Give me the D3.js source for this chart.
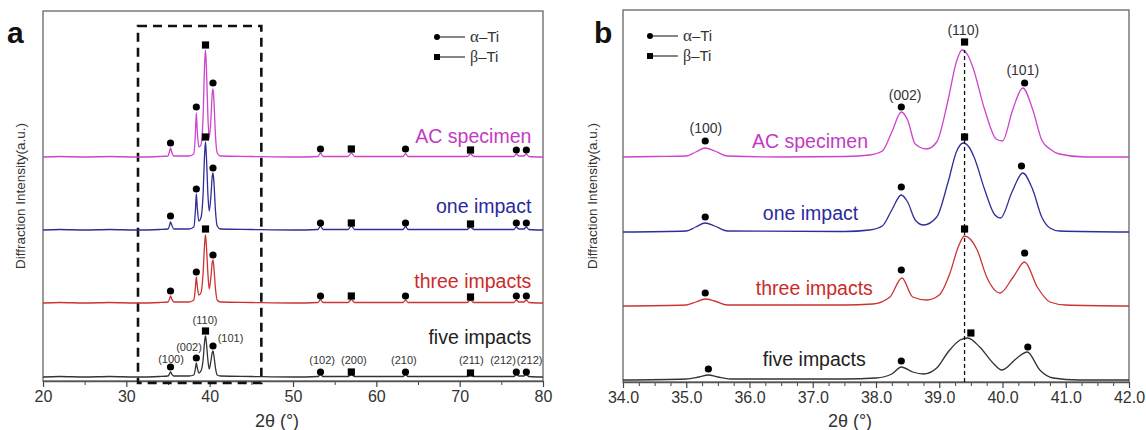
<!DOCTYPE html>
<html>
<head>
<meta charset="utf-8">
<script src="https://cdn.jsdelivr.net/npm/d3@7/dist/d3.min.js"></script>
<style>
  body { margin: 0; background: #fff; }
  svg { font-family: "Liberation Sans", Arial, sans-serif; }
  .tick line { stroke: #444; }
  .domain { stroke: #555; }
</style>
</head>
<body>
<div id="mainChart"></div>
<script>
// ---- Data (2theta in degrees, intensity in arbitrary stacked units) ----
const seriesNames = ["AC specimen", "one impact", "three impacts", "five impacts"]

// panel a : full scan 20-80
const acA = [[20,224],[22,224.5],[25,224],[28,224.5],[31,224],[34,224.5],[35.0,225],[35.2,230],[35.3,233],[35.45,229],[35.7,225],[37.5,225],[38.1,227],[38.3,250],[38.4,268],[38.5,252],[38.7,234],[38.95,236],[39.2,262],[39.4,318],[39.5,331],[39.6,315],[39.8,262],[39.95,243],[40.15,262],[40.3,287],[40.4,292],[40.5,282],[40.7,245],[40.9,228],[41.3,225],[45,224.5],[50,224],[53.0,224.5],[53.3,228],[53.6,224.5],[56.6,224.5],[57.0,228],[57.4,224.5],[63.2,224.5],[63.5,227.5],[63.8,224.5],[70.9,224.5],[71.3,227],[71.7,224.5],[76.5,224.5],[76.8,227],[77.1,225],[77.7,225],[78.0,227],[78.3,224.5],[80,224]]
const oneA = [[20,151],[22,151.5],[25,151],[28,151.5],[31,151],[34,151.5],[35.0,152],[35.2,156],[35.3,159],[35.45,156],[35.7,152],[37.5,152],[38.1,154],[38.3,172],[38.4,187],[38.5,175],[38.7,160],[38.95,163],[39.2,185],[39.4,228],[39.5,239],[39.6,226],[39.8,185],[39.95,170],[40.15,185],[40.3,204],[40.4,208],[40.5,200],[40.7,170],[40.9,155],[41.3,152],[45,151.5],[50,151],[53.0,151.5],[53.3,155],[53.6,151.5],[56.6,151.5],[57.0,155],[57.4,151.5],[63.2,151.5],[63.5,154.5],[63.8,151.5],[70.9,151.5],[71.3,154],[71.7,151.5],[76.5,151.5],[76.8,154],[77.1,152],[77.7,152],[78.0,154],[78.3,151.5],[80,151]]
const threeA = [[20,78],[22,78.5],[25,78],[28,78.5],[31,78],[34,78.5],[35.0,79],[35.2,82.5],[35.3,85],[35.45,82],[35.7,79],[37.5,79],[38.1,81],[38.3,95],[38.4,104],[38.5,96],[38.7,86],[38.95,88],[39.2,106],[39.4,138],[39.5,146],[39.6,136],[39.8,106],[39.95,92],[40.15,104],[40.3,118],[40.4,121],[40.5,114],[40.7,92],[40.9,81],[41.3,79],[45,78.5],[50,78],[53.0,78.5],[53.3,81.5],[53.6,78.5],[56.6,78.5],[57.0,81.5],[57.4,78.5],[63.2,78.5],[63.5,81],[63.8,78.5],[70.9,78.5],[71.3,81],[71.7,78.5],[76.5,78.5],[76.8,81],[77.1,79],[77.7,79],[78.0,81],[78.3,78.5],[80,78]]
const fiveA = [[20,4],[22,4.5],[25,4],[28,4.5],[31,4],[34,4.5],[35.0,5],[35.2,7.5],[35.3,9],[35.45,7],[35.7,5],[37.5,5],[38.1,6],[38.3,13],[38.4,18],[38.5,14],[38.7,8],[38.95,10],[39.2,20],[39.4,40],[39.5,45],[39.6,39],[39.8,20],[39.95,12],[40.15,20],[40.3,28],[40.4,30],[40.5,26],[40.7,13],[40.9,6],[41.3,5],[45,4.5],[50,4],[53.0,4.5],[53.3,6.5],[53.6,4.5],[56.6,4.5],[57.0,6.5],[57.4,4.5],[63.2,4.5],[63.5,6.5],[63.8,4.5],[70.9,4.5],[71.3,6.5],[71.7,4.5],[76.5,4.5],[76.8,6.5],[77.1,5],[77.7,5],[78.0,6.5],[78.3,4.5],[80,4]]

// marker positions: [2theta, intensity, phase]  a = alpha-Ti (circle), b = beta-Ti (square)
const markAcA = [[35.3,238,"a"],[38.4,274,"a"],[39.5,336,"b"],[40.4,298,"a"],[53.3,232,"a"],[57.0,232,"b"],[63.5,232,"a"],[71.3,231,"b"],[76.8,231,"a"],[78.0,231,"a"]]
const markOneA = [[35.3,165,"a"],[38.4,192,"a"],[39.5,244,"b"],[40.4,213,"a"],[53.3,158,"a"],[57.0,158,"b"],[63.5,158,"a"],[71.3,157,"b"],[76.8,158,"a"],[78.0,158,"a"]]
const markThreeA = [[35.3,90,"a"],[38.4,109,"a"],[39.5,152,"b"],[40.4,126,"a"],[53.3,85,"a"],[57.0,85,"b"],[63.5,85,"a"],[71.3,84,"b"],[76.8,85,"a"],[78.0,85,"a"]]
const markFiveA = [[35.3,14,"a"],[38.4,23,"a"],[39.5,50,"b"],[40.4,35,"a"],[53.3,9,"a"],[57.0,9,"b"],[63.5,9,"a"],[71.3,8,"b"],[76.8,9,"a"],[78.0,9,"a"]]

// hkl labels on the five-impacts trace: [2theta, intensity, text]
const hklA = [[35.36,18,"(100)"],[37.52,30,"(002)"],[39.44,57,"(110)"],[42.5,39,"(101)"],[53.5,17,"(102)"],[57.3,17,"(200)"],[63.3,17,"(210)"],[71.4,17,"(211)"],[75.2,17,"(212)"],[78.4,17,"(212)"]]
const labelPosA = [[78.6,238],[78.6,168],[78.6,93],[78.6,37]]
const zoomBoxA = [31.4, 46.2, -2, 355]
const ticksA = [20, 30, 40, 50, 60, 70, 80]
const minorTicksA = [25, 35, 45, 55, 65, 75]

// panel b : detail 34-42
const acB = [[34,225],[34.5,225.5],[35.0,226],[35.15,230],[35.3,234],[35.45,231],[35.65,226],[36.5,225],[37.5,225.5],[37.9,227],[38.1,231],[38.25,250],[38.4,270],[38.5,262],[38.62,238],[38.8,233],[38.96,240],[39.14,282],[39.27,320],[39.36,332],[39.45,327],[39.53,315],[39.72,272],[39.9,243],[40.0,241],[40.16,272],[40.32,294],[40.48,272],[40.62,242],[40.75,233],[40.9,228],[41.3,225],[42,225]]
const oneB = [[34,150],[35.0,151],[35.15,155],[35.3,159],[35.45,156],[35.65,151],[37.5,150.5],[37.9,152],[38.1,156],[38.25,172],[38.4,187],[38.5,180],[38.62,162],[38.75,157],[38.96,165],[39.14,200],[39.27,230],[39.38,239],[39.47,235],[39.55,225],[39.72,192],[39.88,167],[39.97,164],[40.15,190],[40.32,209],[40.48,192],[40.62,165],[40.75,154],[40.9,151],[42,150]]
const threeB = [[34,76],[35.0,77],[35.15,80],[35.3,83],[35.45,81],[35.65,77],[37.5,77],[37.95,78],[38.22,85],[38.41,104],[38.58,85],[38.8,82],[39.0,87],[39.17,109],[39.3,135],[39.4,146],[39.6,132],[39.75,105],[39.96,89],[40.17,105],[40.35,120],[40.55,95],[40.75,80],[41.0,77],[42,76]]
const fiveB = [[34,2],[35.0,3],[35.2,5],[35.35,7],[35.5,5],[35.7,3],[37.5,3],[38.0,4],[38.25,8],[38.4,15],[38.58,10],[38.75,8],[38.96,14],[39.14,30],[39.33,42],[39.45,44],[39.64,35],[39.85,19],[39.99,12],[40.23,24],[40.39,30],[40.59,12],[40.8,4],[41.2,2],[42,2]]

const markAcB = [[35.3,241,"a"],[38.4,275,"a"],[39.4,340,"b"],[40.35,299,"a"]]
const markOneB = [[35.3,165,"a"],[38.4,195,"a"],[39.4,245,"b"],[40.3,216,"a"]]
const markThreeB = [[35.3,89,"a"],[38.4,112,"a"],[39.4,153,"b"],[40.35,129,"a"]]
const markFiveB = [[35.35,13,"a"],[38.4,21,"a"],[39.5,49,"b"],[40.4,35,"a"]]

const hklB = [[35.31,249,"(100)"],[38.46,282,"(002)"],[39.38,347,"(110)"],[40.32,307,"(101)"]]
const labelPosB = [[36.04,234],[36.21,162],[36.1,87],[36.21,16]]
const guideB = [39.4, 0, 332]
const ticksB = [34, 35, 36, 37, 38, 39, 40, 41, 42]
const minorTicksB = [34.25,34.5,34.75,35.25,35.5,35.75,36.25,36.5,36.75,37.25,37.5,37.75,38.25,38.5,38.75,39.25,39.5,39.75,40.25,40.5,40.75,41.25,41.5,41.75]

// ---- Styles ----
const lineColors = ["#cc44cc", "#2e2e96", "#cc3333", "#333333"]
const textColors = ["#c33bc3", "#2a2aa0", "#cc2a2a", "#222222"]

const svg = d3.select("#mainChart").append("svg")
   .attr("width", 1146)
   .attr("height", 430)

function drawPanel(p) {

   let x = d3.scaleLinear().domain(p.xDomain).range([p.left, p.right])
   let y = d3.scaleLinear().domain(p.yDomain).range([p.bottom, p.top])

   let g = svg.append("g").attr("class", "panel")

   // frame
   g.append("rect")
      .attr("x", p.left)
      .attr("y", p.top)
      .attr("width", p.right - p.left)
      .attr("height", p.bottom - p.top)
      .attr("fill", "none")
      .attr("stroke", "#666")
      .attr("stroke-width", 1.3)

   // minor ticks first, then major ticks with labels
   g.append("g")
      .attr("transform", "translate(0," + p.bottom + ")")
      .call(d3.axisBottom(x).tickValues(p.minorTicks).tickFormat("").tickSize(4).tickSizeOuter(0))
      .call(a => a.select(".domain").remove())

   let xAxis = g.append("g")
      .attr("transform", "translate(0," + p.bottom + ")")
      .call(d3.axisBottom(x).tickValues(p.ticks).tickFormat(p.tickFormat).tickSize(6).tickSizeOuter(0))

   xAxis.select(".domain").attr("stroke-width", 1.3)
   xAxis.selectAll(".tick line").attr("stroke-width", 1.2)
   xAxis.selectAll(".tick text")
      .attr("y", 10)
      .attr("font-size", 16)
      .attr("fill", "#333")
      .attr("font-family", "Liberation Sans, Arial, sans-serif")

   g.selectAll(".tick line").attr("stroke", "#444")

   // axis titles
   g.append("text")
      .attr("x", p.titleX)
      .attr("y", 427)
      .attr("text-anchor", "middle")
      .attr("font-size", 18)
      .attr("fill", "#333")
      .text("2θ (°)")

   g.append("text")
      .attr("transform", "translate(" + p.yLabelX + "," + ((p.top + p.bottom) / 2) + ") rotate(-90)")
      .attr("text-anchor", "middle")
      .attr("font-size", 13.5)
      .attr("fill", "#333")
      .text("Diffraction Intensity(a.u.)")

   // panel letter
   g.append("text")
      .attr("x", p.letterX)
      .attr("y", 43)
      .attr("font-size", 30)
      .attr("font-weight", "bold")
      .attr("fill", "#111")
      .text(p.letter)

   // extra decoration (box or guide line) under the traces
   if (p.zoomBox) {
      g.append("rect")
         .attr("x", x(p.zoomBox[0]))
         .attr("y", y(p.zoomBox[3]))
         .attr("width", x(p.zoomBox[1]) - x(p.zoomBox[0]))
         .attr("height", y(p.zoomBox[2]) - y(p.zoomBox[3]))
         .attr("fill", "none")
         .attr("stroke", "#111")
         .attr("stroke-width", 2.6)
         .attr("stroke-dasharray", "9,6")
   }

   let line = d3.line()
      .x(function (d) { return x(d[0]) })
      .y(function (d) { return y(d[1]) })
      .curve(d3.curveMonotoneX)

   p.curves.forEach(function (c, i) {
      g.append("path")
         .datum(c)
         .attr("d", line)
         .attr("fill", "none")
         .attr("stroke", lineColors[i])
         .attr("stroke-width", 1.3)
   })

   if (p.guide) {
      g.append("line")
         .attr("x1", x(p.guide[0]))
         .attr("x2", x(p.guide[0]))
         .attr("y1", y(p.guide[1]))
         .attr("y2", y(p.guide[2]))
         .attr("stroke", "#111")
         .attr("stroke-width", 1.3)
         .attr("stroke-dasharray", "4,3")
   }

   // phase markers
   p.markers.forEach(function (m) {
      g.selectAll(null).data(m.filter(d => d[2] === "a"))
         .join("circle")
         .attr("cx", d => x(d[0]))
         .attr("cy", d => y(d[1]))
         .attr("r", 3.6)
         .attr("fill", "#000")

      g.selectAll(null).data(m.filter(d => d[2] === "b"))
         .join("rect")
         .attr("x", d => x(d[0]) - 3.6)
         .attr("y", d => y(d[1]) - 3.6)
         .attr("width", 7.2)
         .attr("height", 7.2)
         .attr("fill", "#000")
   })

   // hkl labels
   g.selectAll(null).data(p.hkl)
      .join("text")
      .attr("x", d => x(d[0]))
      .attr("y", d => y(d[1]))
      .attr("text-anchor", "middle")
      .attr("font-size", p.hklSize)
      .attr("fill", "#333")
      .text(d => d[2])

   // series labels
   g.selectAll(null).data(p.labelPos)
      .join("text")
      .attr("x", d => x(d[0]))
      .attr("y", d => y(d[1]))
      .attr("text-anchor", p.labelAnchor)
      .attr("font-size", 19.5)
      .attr("fill", (d, i) => textColors[i])
      .text((d, i) => seriesNames[i])

   // legend
   let legend = g.append("g").attr("transform", "translate(" + p.legendX + "," + p.legendY + ")")
   legend.append("circle").attr("cx", 0).attr("cy", 0).attr("r", 3).attr("fill", "#000")
   legend.append("rect").attr("x", -3).attr("y", 17).attr("width", 6).attr("height", 6).attr("fill", "#000")
   legend.append("line").attr("x1", 3).attr("x2", 28).attr("y1", 0).attr("y2", 0).attr("stroke", "#333").attr("stroke-width", 1.2)
   legend.append("line").attr("x1", 3).attr("x2", 28).attr("y1", 20).attr("y2", 20).attr("stroke", "#333").attr("stroke-width", 1.2)

   let ta = legend.append("text").attr("x", 33).attr("y", 5).attr("font-size", 15).attr("fill", "#333")
   ta.append("tspan").attr("font-family", "Liberation Serif, serif").attr("font-size", 17).text("α")
   ta.append("tspan").text("–Ti")
   let tb = legend.append("text").attr("x", 33).attr("y", 25).attr("font-size", 15).attr("fill", "#333")
   tb.append("tspan").attr("font-family", "Liberation Serif, serif").attr("font-size", 16).text("β")
   tb.append("tspan").text("–Ti")
}

drawPanel({
   letter: "a", letterX: 7,
   left: 43, right: 543, top: 11, bottom: 381,
   titleX: 277, yLabelX: 25,
   xDomain: [20, 80], yDomain: [0, 370],
   ticks: ticksA, minorTicks: minorTicksA, tickFormat: d3.format("d"),
   curves: [acA, oneA, threeA, fiveA],
   markers: [markAcA, markOneA, markThreeA, markFiveA],
   hkl: hklA, hklSize: 11,
   labelPos: labelPosA, labelAnchor: "end",
   zoomBox: zoomBoxA,
   legendX: 437, legendY: 37
})

drawPanel({
   letter: "b", letterX: 594,
   left: 623, right: 1129, top: 10, bottom: 382,
   titleX: 850, yLabelX: 597,
   xDomain: [34, 42], yDomain: [0, 372],
   ticks: ticksB, minorTicks: minorTicksB, tickFormat: d3.format(".1f"),
   curves: [acB, oneB, threeB, fiveB],
   markers: [markAcB, markOneB, markThreeB, markFiveB],
   hkl: hklB, hklSize: 14,
   labelPos: labelPosB, labelAnchor: "start",
   guide: guideB,
   legendX: 650, legendY: 36
})
</script>
</body>
</html>
